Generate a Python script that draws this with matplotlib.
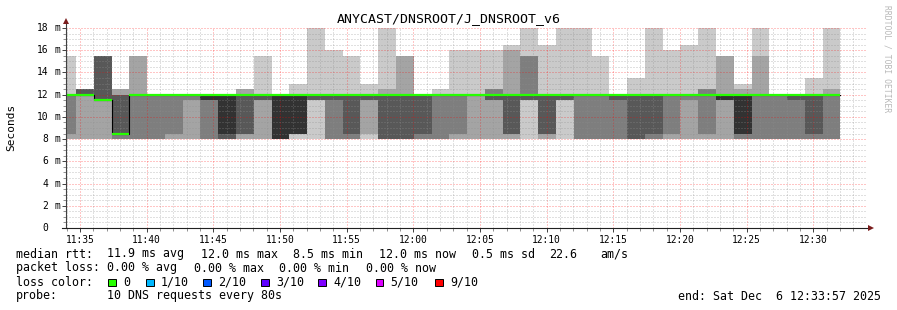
import matplotlib.pyplot as plt
import numpy as np
from matplotlib.patches import Rectangle

plt.rcParams['font.family'] = ['DejaVu Sans Mono']

title = "ANYCAST/DNSROOT/J_DNSROOT_v6"

# time in minutes after 11:00, graph shows the hour ending 12:33:57
t_left = 33 + 57 / 60
t_right = t_left + 60
first_step_end = 34 + 42 / 60   # 11:34:42
step_min = 80 / 60              # one probe round every 80 s

# 10 sorted DNS rtts (ms) for each 80 s step
pings = [
    [8, 8, 8.5, 12, 12, 12, 12, 12, 12, 15.5],
    [8, 8, 12, 12, 12, 12, 12.5, 12.5, 12.5, 12.5],
    [8, 8, 11.5, 11.5, 11.5, 11.5, 15.5, 15.5, 15.5, 15.5],
    [8, 8, 8, 8.5, 8.5, 8.5, 12, 12, 12.5, 12.5],
    [8, 8, 8, 12, 12, 12, 12, 12, 15.5, 15.5],
    [8, 8, 8, 12, 12, 12, 12, 12, 12, 12],
    [8, 8, 8.5, 12, 12, 12, 12, 12, 12, 12],
    [8, 8, 11.5, 12, 12, 12, 12, 12, 12, 12],
    [8, 8, 8, 11.5, 11.5, 12, 12, 12, 12, 12],
    [8, 8, 8, 8, 8.5, 12, 12, 12, 12, 12],
    [8, 8, 8.5, 8.5, 12, 12, 12, 12, 12.5, 12.5],
    [8, 8, 11.5, 11.5, 12, 12, 12, 12, 12, 15.5],
    [8, 8, 8, 8, 8, 12, 12, 12, 12, 12],
    [8, 8.5, 8.5, 8.5, 8.5, 12, 12, 12, 12, 13],
    [8, 11.5, 11.5, 11.5, 12, 12, 12, 12, 12, 18],
    [8, 8, 8, 11.5, 12, 12, 12, 12, 12, 16],
    [8, 8, 8, 8.5, 12, 12, 12, 12, 12, 15.5],
    [8, 8.5, 11.5, 11.5, 12, 12, 12, 12, 12, 13],
    [8, 8, 8, 8, 12, 12, 12, 12, 12.5, 18],
    [8, 8, 8, 8, 12, 12, 12, 12, 15.5, 15.5],
    [8, 8, 8, 8.5, 12, 12, 12, 12, 12, 12],
    [8, 8, 8, 12, 12, 12, 12, 12, 12, 12.5],
    [8, 8, 8.5, 12, 12, 12, 12, 12, 12, 16],
    [8, 8, 12, 12, 12, 12, 12, 12, 12, 16],
    [8, 8, 11.5, 11.5, 12, 12, 12, 12.5, 12.5, 16],
    [8, 8, 8.5, 8.5, 12, 12, 12, 12, 16, 16.5],
    [8, 11.5, 11.5, 11.5, 12, 12, 12, 15.5, 15.5, 18],
    [8, 8, 8.5, 8.5, 12, 12, 12, 12, 12, 16.5],
    [8, 11.5, 11.5, 11.5, 12, 12, 12, 12, 12, 18],
    [8, 8, 8, 12, 12, 12, 12, 12, 12, 18],
    [8, 8, 8, 12, 12, 12, 12, 12, 12, 15.5],
    [8, 8, 8, 11.5, 12, 12, 12, 12, 12, 12],
    [8, 8, 8, 8, 12, 12, 12, 12, 12, 13.5],
    [8, 8, 8, 8.5, 12, 12, 12, 12, 12, 18],
    [8, 8, 8.5, 12, 12, 12, 12, 12, 12, 16],
    [8, 8, 11.5, 12, 12, 12, 12, 12, 12, 16.5],
    [8, 8, 8.5, 12, 12, 12, 12, 12.5, 12.5, 18],
    [8, 8, 11.5, 11.5, 11.5, 12, 12, 12, 15.5, 15.5],
    [8, 8, 8, 8.5, 8.5, 12, 12, 12, 12.5, 13],
    [8, 8, 8, 12, 12, 12, 12, 12, 15.5, 18],
    [8, 8, 8, 12, 12, 12, 12, 12, 12, 12],
    [8, 8, 8, 11.5, 12, 12, 12, 12, 12, 12],
    [8, 8, 8, 8.5, 12, 12, 12, 12, 12, 13.5],
    [8, 8, 8, 12, 12, 12, 12, 12, 12.5, 18],
]

x_ticks = list(range(35, 91, 5))
x_labels = ["11:35", "11:40", "11:45", "11:50", "11:55", "12:00",
            "12:05", "12:10", "12:15", "12:20", "12:25", "12:30"]
y_ticks = list(range(0, 19, 2))
y_labels = ["0", "2", "4", "6", "8", "10", "12", "14", "16", "18"]

smoke_grey = ["#cacaca", "#a4a4a4", "#7e7e7e", "#585858", "#323232"]
median_color = "#26ff00"
loss_labels = ["0", "1/10", "2/10", "3/10", "4/10", "5/10", "9/10"]
loss_colors = ["#26ff00", "#00b8ff", "#0059ff", "#5e00ff", "#7e00ff", "#dd00ff", "#ff0000"]

rtt_items = ["median rtt:", "11.9 ms avg", "12.0 ms max", "8.5 ms min",
             "12.0 ms now", "0.5 ms sd", "22.6", "am/s"]
loss_items = ["packet loss:", "0.00 % avg", "0.00 % max", "0.00 % min",
              "0.00 % now"]
probe_items = ["probe:", "10 DNS requests every 80s"]
end_text = "end: Sat Dec  6 12:33:57 2025"

W, H = 897, 310
fig = plt.figure(figsize=(W / 100, H / 100), dpi=100)
ax = fig.add_axes([66 / W, (H - 228) / H, 800 / W, 200 / H])

p = np.array(pings)
edges = first_step_end + step_min * np.arange(-1, len(pings))

# smoke: band k spans ping k .. ping 11-k, inner bands on top
for k in range(5):
    lo = np.append(p[:, k], p[-1, k])
    hi = np.append(p[:, 9 - k], p[-1, 9 - k])
    ax.fill_between(edges, lo, hi, step='post', color=smoke_grey[k],
                    linewidth=0, zorder=1)

med = p[:, 5]
ax.step(edges, np.append(med, med[-1]), where='post', color='black',
        lw=0.8, zorder=2.8)
ax.hlines(med, edges[:-1], edges[1:], color=median_color, lw=1.6, zorder=3)

ax.set_xlim(t_left, t_right)
ax.set_ylim(0, 18)
ax.set_xticks(x_ticks)
ax.set_xticklabels(x_labels, fontsize=6.9)
ax.set_xticks(np.arange(34, 94, 1), minor=True)
ax.set_yticks(y_ticks)
ax.set_yticklabels([])
ax.set_yticks(np.arange(0, 18.01, 0.5), minor=True)
ax.tick_params(which='major', direction='out', length=3, width=0.7,
               color='#404040', pad=2)
ax.tick_params(which='minor', direction='out', length=2, width=0.7,
               color='#909090')

ax.set_axisbelow(False)
ax.grid(which='minor', color='#8f8f8f', alpha=0.55, lw=0.72,
        linestyle=(0, (1, 2)))
ax.grid(which='major', color='#ff0000', alpha=0.45, lw=0.72,
        linestyle=(0, (1, 2)))

for s in ax.spines.values():
    s.set_visible(False)

# axis lines with arrows
ax.plot([0, 0], [0, 1.03], color='#404040', lw=0.8,
        transform=ax.transAxes, clip_on=False, zorder=4)
ax.plot([-0.005, 1.004], [0, 0], color='#202020', lw=0.8,
        transform=ax.transAxes, clip_on=False, zorder=4)
ax.plot([0], [1.035], marker='^', ms=4, color='#7a1c1c', mew=0,
        transform=ax.transAxes, clip_on=False, zorder=5)
ax.plot([1.006], [0], marker='>', ms=4, color='#7a1c1c', mew=0,
        transform=ax.transAxes, clip_on=False, zorder=5)

# y tick labels: number and unit
ytrans = ax.get_yaxis_transform()
for v, lab in zip(y_ticks, y_labels):
    ax.text(-18 / 800, v, lab, transform=ytrans, ha='right', va='center',
            fontsize=6.9)
    if v != 0:
        ax.text(-6 / 800, v, "m", transform=ytrans, ha='right', va='center',
                fontsize=6.9)

fig.text(11 / W, 1 - 127 / H, "Seconds", rotation=90, ha='center',
         va='center', fontsize=8)
fig.text(0.5, 1 - 19 / H, title, ha='center', va='center', fontsize=9.5)
fig.text(887 / W, 1 - 59 / H, "RRDTOOL / TOBI OETIKER", rotation=270,
         ha='center', va='center', fontsize=5.8, color='#b8b8b8')


def put(x, y, s, **kw):
    fig.text(x / W, 1 - y / H, s, va='center', fontsize=8.35, **kw)


# legend block
for x, s in zip([16, 107.3, 201, 293.3, 379, 472.3, 549, 600.7], rtt_items):
    put(x, 254, s)
for x, s in zip([16, 107.3, 194, 279.3, 365.7], loss_items):
    put(x, 268, s)
put(16, 282, "loss color:")
sq_x = [108.3, 146, 203.3, 261, 318.3, 375.7, 435]
for x, c, lab in zip(sq_x, loss_colors, loss_labels):
    fig.add_artist(Rectangle((x / W, 1 - 286 / H), 7.5 / W, 7.5 / H,
                             transform=fig.transFigure, facecolor=c,
                             edgecolor='black', lw=0.7))
    put(x + 15, 282, lab)
for x, s in zip([16, 107.3], probe_items):
    put(x, 296, s)
put(880.5, 296, end_text, ha='right')

fig.savefig("out.png", dpi=100, facecolor='white')
